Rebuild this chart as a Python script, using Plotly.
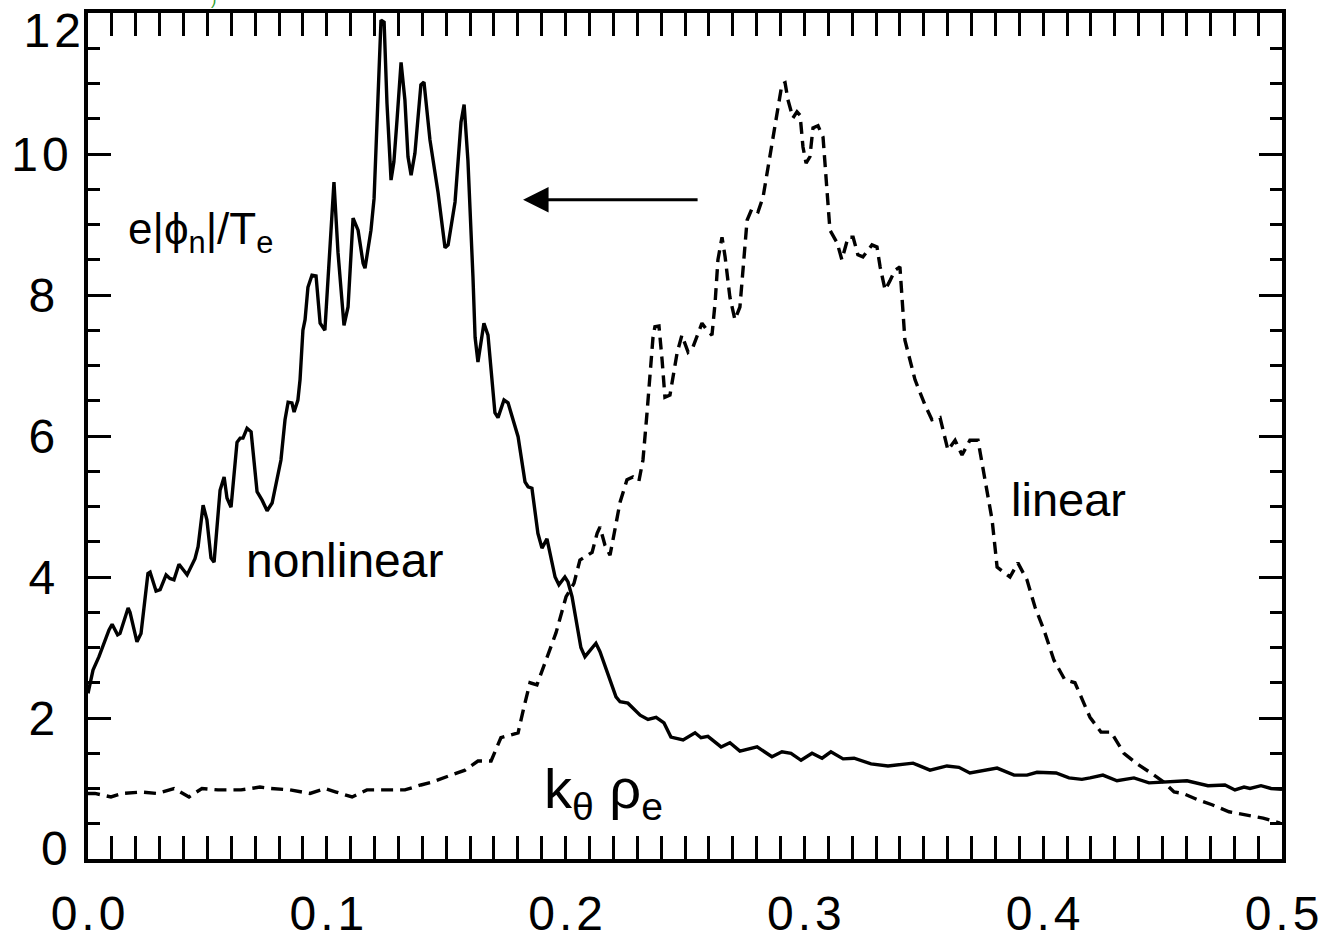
import plotly.graph_objects as go

# ---- data ----
k_nonlinear = [0.0, 0.0021, 0.0046, 0.0088, 0.0101, 0.0124, 0.0134, 0.0168, 0.0176, 0.0205,
               0.0222, 0.0251, 0.026, 0.0285, 0.0302, 0.0327, 0.0343, 0.036, 0.0381, 0.0389,
               0.0415, 0.0448, 0.0461, 0.0482, 0.0498, 0.0515, 0.0528, 0.0553, 0.057, 0.0582,
               0.0599, 0.0624, 0.0637, 0.0649, 0.0666, 0.0683, 0.0708, 0.0729, 0.075, 0.0771,
               0.0791, 0.0808, 0.0825, 0.0838, 0.0854, 0.0863, 0.0879, 0.0888, 0.09, 0.0909,
               0.0921, 0.0938, 0.0955, 0.0972, 0.0992, 0.1005, 0.103, 0.1047, 0.1072, 0.1089,
               0.111, 0.1131, 0.1152, 0.116, 0.1185, 0.1198, 0.1214, 0.1227, 0.124, 0.1252,
               0.1269, 0.1281, 0.1294, 0.1311, 0.1327, 0.134, 0.1353, 0.1369, 0.1394, 0.1407,
               0.1432, 0.1466, 0.1495, 0.1508, 0.1537, 0.1562, 0.1575, 0.1591, 0.1612, 0.1621,
               0.1633, 0.1658, 0.1675, 0.1704, 0.1717, 0.1742, 0.1759, 0.1801, 0.183, 0.1843,
               0.1859, 0.1884, 0.1901, 0.1922, 0.1956, 0.1972, 0.1997, 0.201, 0.2027, 0.2064,
               0.2081, 0.2127, 0.2144, 0.2211, 0.2228, 0.2261, 0.2312, 0.2345, 0.2379, 0.2412,
               0.2441, 0.2492, 0.2542, 0.2567, 0.2596, 0.2651, 0.2688, 0.273, 0.2802, 0.2864,
               0.2906, 0.2944, 0.2986, 0.3032, 0.3074, 0.3111, 0.3162, 0.3208, 0.3279, 0.335,
               0.3455, 0.3526, 0.3597, 0.3647, 0.3693, 0.3735, 0.3807, 0.3878, 0.3932, 0.3974,
               0.4054, 0.4108, 0.4162, 0.4196, 0.425, 0.4309, 0.438, 0.4443, 0.4514, 0.4602,
               0.469, 0.4761, 0.4803, 0.4841, 0.4866, 0.4912, 0.4954, 0.5]
phi_nonlinear = [2.35, 2.68, 2.87, 3.25, 3.33, 3.18, 3.2, 3.56, 3.5, 3.08,
                 3.2, 4.05, 4.07, 3.8, 3.82, 4.03, 3.98, 3.96, 4.18, 4.14,
                 4.03, 4.26, 4.43, 5.02, 4.81, 4.27, 4.21, 5.23, 5.42, 5.12,
                 4.99, 5.91, 5.97, 5.97, 6.11, 6.06, 5.21, 5.09, 4.94, 5.05,
                 5.38, 5.66, 6.23, 6.48, 6.47, 6.34, 6.51, 6.8, 7.5, 7.65,
                 8.11, 8.28, 8.27, 7.6, 7.5, 8.21, 9.6, 8.6, 7.57, 7.83,
                 9.09, 8.92, 8.45, 8.38, 8.92, 9.37, 10.67, 11.9, 11.87, 10.72,
                 9.63, 9.89, 10.48, 11.3, 10.77, 9.96, 9.7, 10.01, 10.98, 11.02,
                 10.2, 9.45, 8.67, 8.71, 9.32, 10.45, 10.7, 9.91, 8.26, 7.4,
                 7.05, 7.6, 7.43, 6.33, 6.26, 6.51, 6.47, 5.99, 5.35, 5.28,
                 5.26, 4.62, 4.41, 4.54, 4.0, 3.89, 4.0, 3.93, 3.72, 3.0,
                 2.87, 3.06, 2.94, 2.3, 2.23, 2.21, 2.04, 1.98, 2.01, 1.93,
                 1.73, 1.69, 1.79, 1.72, 1.74, 1.59, 1.65, 1.53, 1.59, 1.45,
                 1.52, 1.5, 1.4, 1.5, 1.43, 1.52, 1.42, 1.43, 1.35, 1.32,
                 1.36, 1.26, 1.32, 1.3, 1.22, 1.25, 1.29, 1.19, 1.19, 1.23,
                 1.22, 1.15, 1.13, 1.15, 1.19, 1.11, 1.15, 1.08, 1.09, 1.11,
                 1.04, 1.05, 0.98, 1.02, 1.0, 1.04, 1.0, 0.99]

k_linear = [0.0, 0.0029, 0.0096, 0.0142, 0.0222, 0.0289, 0.036, 0.0423, 0.0477, 0.0544,
            0.0641, 0.072, 0.0766, 0.0846, 0.093, 0.0992, 0.1039, 0.1106, 0.1168, 0.1248,
            0.1327, 0.1394, 0.1441, 0.152, 0.1579, 0.1633, 0.1688, 0.1729, 0.1801, 0.1826,
            0.1851, 0.188, 0.1914, 0.196, 0.2002, 0.2035, 0.206, 0.2111, 0.2132, 0.2144,
            0.2165, 0.2186, 0.2198, 0.2228, 0.2257, 0.2282, 0.2307, 0.2324, 0.2341, 0.2353,
            0.2366, 0.2374, 0.2391, 0.2404, 0.2416, 0.2437, 0.2467, 0.2487, 0.2513, 0.2533,
            0.2571, 0.2592, 0.2613, 0.2626, 0.2638, 0.2655, 0.2668, 0.2688, 0.2709, 0.273,
            0.2743, 0.276, 0.2781, 0.2806, 0.2827, 0.2848, 0.2868, 0.2889, 0.2906, 0.2919,
            0.2931, 0.2952, 0.2969, 0.2982, 0.2994, 0.3007, 0.3023, 0.3036, 0.3057, 0.3078,
            0.3095, 0.3107, 0.3137, 0.3157, 0.3183, 0.3204, 0.3224, 0.3245, 0.3283, 0.3304,
            0.3317, 0.3338, 0.3358, 0.3379, 0.34, 0.3421, 0.3463, 0.3505, 0.3534, 0.3568,
            0.3601, 0.3631, 0.366, 0.3693, 0.3727, 0.3756, 0.3786, 0.3807, 0.3861, 0.3894,
            0.3932, 0.3966, 0.4003, 0.4045, 0.4091, 0.4133, 0.4162, 0.4196, 0.4242, 0.4284,
            0.4338, 0.4389, 0.4451, 0.4506, 0.4548, 0.4585, 0.4648, 0.4707, 0.4778, 0.4849,
            0.4921, 0.4992]
phi_linear = [0.93, 0.93, 0.88, 0.93, 0.95, 0.93, 1.0, 0.88, 1.0, 0.98,
              0.98, 1.02, 1.0, 0.98, 0.93, 1.0, 0.95, 0.88, 0.98, 0.98,
              0.98, 1.05, 1.09, 1.19, 1.26, 1.39, 1.39, 1.72, 1.79, 2.16,
              2.5, 2.47, 2.78, 3.21, 3.72, 3.91, 4.24, 4.35, 4.62, 4.71,
              4.45, 4.31, 4.52, 5.06, 5.38, 5.42, 5.36, 5.66, 6.33, 6.84,
              7.4, 7.55, 7.56, 7.08, 6.55, 6.58, 7.18, 7.43, 7.19, 7.26,
              7.6, 7.5, 7.43, 7.89, 8.5, 8.82, 8.54, 7.97, 7.65, 7.83,
              8.4, 9.06, 9.23, 9.18, 9.39, 9.82, 10.24, 10.67, 10.99, 11.01,
              10.77, 10.51, 10.6, 10.55, 10.1, 9.87, 9.96, 10.37, 10.4, 10.24,
              9.45, 8.92, 8.74, 8.5, 8.82, 8.82, 8.57, 8.54, 8.71, 8.68,
              8.4, 8.07, 8.2, 8.35, 8.4, 7.36, 6.8, 6.44, 6.23, 6.26,
              5.8, 5.94, 5.73, 5.94, 5.94, 5.38, 4.81, 4.14, 4.0, 4.2,
              3.96, 3.57, 3.25, 2.82, 2.54, 2.5, 2.26, 2.01, 1.8, 1.8,
              1.5, 1.36, 1.22, 1.09, 0.95, 0.93, 0.84, 0.77, 0.67, 0.62,
              0.58, 0.51]

x_tickvals = [0.0, 0.1, 0.2, 0.3, 0.4, 0.5]
x_ticktext = ["0\u200a.\u200a0", "0\u200a.\u200a1", "0\u200a.\u200a2",
              "0\u200a.\u200a3", "0\u200a.\u200a4", "0\u200a.\u200a5"]
y_tickvals_mid = [2, 4, 6, 8, 10]
y_ticktext_mid = ["2\u2008", "4\u2008", "6\u2008", "8\u2008", "1\u200a0"]
y_tickvals_top = [12]
y_ticktext_top = ["1\u200a2"]
y_tickvals_bot = [0]
y_ticktext_bot = ["0\u2008"]

FONT = "Liberation Sans, Arial, Helvetica, sans-serif"
TICKFONT = dict(family=FONT, size=48, color="black")

fig = go.Figure()
fig.add_trace(go.Scatter(x=k_nonlinear, y=phi_nonlinear, mode="lines",
                         line=dict(color="black", width=3.4), name="nonlinear"))
fig.add_trace(go.Scatter(x=k_linear, y=phi_linear, mode="lines",
                         line=dict(color="black", width=3.4, dash="12px,7px"), name="linear"))
# invisible copies that bind the two extra label axes (for the end labels "12" and "0")
for ax_name in ("y2", "y3"):
    fig.add_trace(go.Scatter(x=k_linear, y=phi_linear, mode="lines", yaxis=ax_name,
                             line=dict(color="rgba(0,0,0,0)", width=0), opacity=0,
                             hoverinfo="skip", showlegend=False))

axis_common = dict(
    showline=True, linewidth=3.5, linecolor="black", mirror="allticks",
    ticks="inside", ticklen=23, tickwidth=3, tickcolor="black",
    showgrid=False, zeroline=False, automargin=False,
    ticklabeloverflow="allow",
    tickfont=TICKFONT,
)
extra_y = dict(range=[0, 12], overlaying="y", side="left", anchor="x",
               tickmode="array", showline=False, ticks="", showgrid=False,
               zeroline=False, automargin=False, ticklabeloverflow="allow",
               ticklabelstandoff=6, tickfont=TICKFONT)

fig.update_layout(
    template="none",
    width=1321, height=936,
    margin=dict(l=88, r=39, t=13, b=77, pad=0),
    paper_bgcolor="white", plot_bgcolor="white",
    showlegend=False,
    font=dict(family=FONT, color="black"),
    xaxis=dict(range=[0, 0.5], tickmode="array", tickvals=x_tickvals, ticktext=x_ticktext,
               ticklabelstandoff=10,
               minor=dict(tickmode="linear", tick0=0, dtick=0.01, ticks="inside",
                          ticklen=12, tickwidth=3, tickcolor="black", showgrid=False),
               **axis_common),
    yaxis=dict(range=[0, 12], tickmode="array", tickvals=y_tickvals_mid, ticktext=y_ticktext_mid,
               ticklabelstandoff=6,
               minor=dict(tickmode="linear", tick0=0, dtick=0.5, ticks="inside",
                          ticklen=12, tickwidth=3, tickcolor="black", showgrid=False),
               **axis_common),
    yaxis2=dict(tickvals=y_tickvals_top, ticktext=y_ticktext_top, ticklabelshift=17, **extra_y),
    yaxis3=dict(tickvals=y_tickvals_bot, ticktext=y_ticktext_bot, ticklabelshift=-11, **extra_y),
)

fig.add_annotation(x=0.0158, y=8.9, xref="x", yref="y", xanchor="left", yanchor="middle",
                   text="e|\u03d5<sub>n</sub>|/T<sub>e</sub>", showarrow=False,
                   font=dict(family=FONT, size=44, color="black"))
fig.add_annotation(x=0.1076, y=4.24, xref="x", yref="y", xanchor="center", yanchor="middle",
                   text="nonlinear", showarrow=False,
                   font=dict(family=FONT, size=48, color="black"))
fig.add_annotation(x=0.4108, y=5.1, xref="x", yref="y", xanchor="center", yanchor="middle",
                   text="linear", showarrow=False,
                   font=dict(family=FONT, size=47, color="black"))
fig.add_annotation(x=0.216, y=0.95, xref="x", yref="y", xanchor="center", yanchor="middle",
                   text="k<sub>\u03b8</sub> \u03c1<sub>e</sub>", showarrow=False,
                   font=dict(family=FONT, size=56, color="black"))
# arrow
fig.add_annotation(x=0.1822, y=9.35, ax=0.2559, ay=9.35, xref="x", yref="y",
                   axref="x", ayref="y", text="", showarrow=True,
                   arrowhead=2, arrowsize=1.7, arrowwidth=3, arrowcolor="black")
# clipped green glyph at the very top
fig.add_annotation(x=(213 - 88) / 1194, y=1.0154, xref="paper", yref="paper",
                   xanchor="center", yanchor="middle", text=")", showarrow=False,
                   font=dict(family=FONT, size=16, color="#2ca02c"))

fig.write_html("out.html")
